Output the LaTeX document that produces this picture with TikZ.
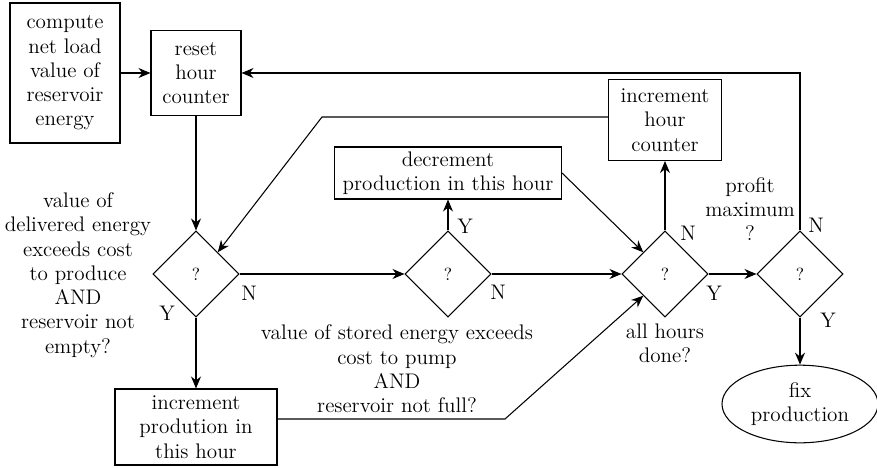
\documentclass[tikz,border=0pt]{standalone}
\usepackage{tikz}
\usetikzlibrary{shapes.geometric, arrows.meta}

\begin{document}
\begin{tikzpicture}[
    every node/.style={font=\fontsize{12}{13.8}\selectfont, align=center},
    stepbox/.style={draw, rectangle, inner sep=2pt},
    query/.style={draw, diamond, minimum width=1.72cm, minimum height=1.72cm,
                  inner sep=0pt, font=\fontsize{10}{12}\selectfont},
    flow/.style={-{Stealth[length=2.4mm, width=2mm]}},
    line width=0.6pt
  ]
  \useasboundingbox (0,0) rectangle (17.54,9.34);

  % Boxes
  \node[stepbox, minimum width=2.2cm, minimum height=2.8cm] (netload) at (1.30,7.88)
       {compute\\net load\\value of\\reservoir\\energy};
  \node[stepbox, minimum width=1.8cm, minimum height=1.7cm] (reset) at (3.92,7.88)
       {reset\\hour\\counter};
  \node[stepbox, minimum width=3.24cm, minimum height=1.52cm] (incprod) at (3.92,0.80)
       {increment\\prodution in\\this hour};
  \node[stepbox, minimum width=4.54cm, minimum height=1.04cm] (decprod) at (8.96,5.88)
       {decrement\\production in this hour};
  \node[stepbox, minimum width=2.26cm, minimum height=1.62cm] (inchour) at (13.30,6.94)
       {increment\\hour\\counter};
  \node[draw, ellipse, minimum width=3.12cm, minimum height=1.32cm] (fix) at (16.00,1.26)
       {fix\\production};

  % Decisions
  \node[query] (q1) at (3.92,3.86) {?};
  \node[query] (q2) at (8.96,3.86) {?};
  \node[query] (q3) at (13.30,3.86) {?};
  \node[query] (q4) at (16.00,3.86) {?};

  % Questions
  \node at (1.56,3.84) {value of\\delivered energy\\exceeds cost\\to produce\\AND\\reservoir not\\empty?};
  \node at (7.94,1.96) {value of stored energy exceeds\\cost to pump\\AND\\reservoir not full?};
  \node at (13.30,2.48) {all hours\\done?};
  \node at (15.00,5.16) {profit\\maximum\\?};

  % Y / N
  \node at (3.34,3.08) {Y};
  \node at (4.98,3.48) {N};
  \node at (9.30,4.82) {Y};
  \node at (9.96,3.50) {N};
  \node at (13.76,4.68) {N};
  \node at (14.28,3.48) {Y};
  \node at (16.32,4.84) {N};
  \node at (16.56,2.94) {Y};

  % Bends
  \coordinate (lowbend) at (10.10,0.96);
  \coordinate (highbend) at (6.44,7.00);

  % Connectors
  \draw[flow] (netload.east) -- (reset.west);
  \draw[flow] (reset.south) -- (q1.north);
  \draw[flow] (q1.south) -- (incprod.north);
  \draw[flow] (q1.east) -- (q2.west);
  \draw[flow] (q2.north) -- (decprod.south);
  \draw[flow] (q2.east) -- (q3.west);
  \draw[flow] (decprod.east) -- (q3.north west);
  \draw[flow] (incprod.east |- lowbend) -- (lowbend) -- (q3.south west);
  \draw[flow] (inchour.west |- highbend) -- (highbend) -- (q1.north east);
  \draw[flow] (q3.north) -- (inchour.south);
  \draw[flow] (q3.east) -- (q4.west);
  \draw[flow] (q4.north) |- (reset.east);
  \draw[flow, line width=1pt] (q4.south) -- (fix.north);
\end{tikzpicture}
\end{document}
